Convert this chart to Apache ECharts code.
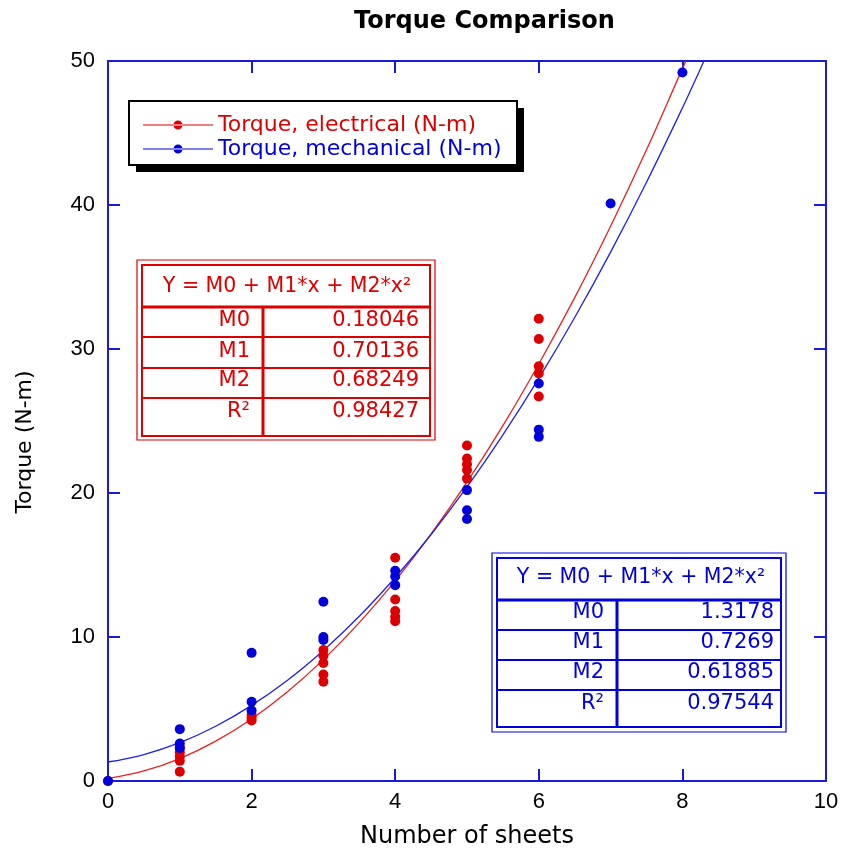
<!DOCTYPE html>
<html>
<head>
<meta charset="utf-8">
<script src="https://cdn.jsdelivr.net/npm/echarts@6/dist/echarts.min.js"></script>
<style>
  html, body { margin: 0; padding: 0; background: #fff; }
  #chart { width: 842px; height: 856px; }
</style>
</head>
<body>
<div id="chart"></div>
<script>
// measured points, [sheets, torque]
const elecPoints = [
  [0, 0],
  [1, 0.65], [1, 1.4], [1, 1.7], [1, 2.0], [1, 2.3],
  [2, 4.2], [2, 4.4], [2, 4.6],
  [3, 6.9], [3, 7.4], [3, 8.2], [3, 8.7], [3, 9.1],
  [4, 11.1], [4, 11.4], [4, 11.8], [4, 12.6], [4, 15.5],
  [5, 21.0], [5, 21.6], [5, 22.0], [5, 22.4], [5, 23.3],
  [6, 26.7], [6, 28.3], [6, 28.8], [6, 30.7], [6, 32.1]
];
const mechPoints = [
  [0, 0],
  [1, 2.3], [1, 2.6], [1, 3.6],
  [2, 4.9], [2, 5.5], [2, 8.9],
  [3, 9.8], [3, 10.0], [3, 12.45],
  [4, 13.6], [4, 14.2], [4, 14.6],
  [5, 18.2], [5, 18.8], [5, 20.2],
  [6, 23.9], [6, 24.4], [6, 27.6],
  [7, 40.1],
  [8, 49.2]
];

// fit curves
const elecFitX = [0, 0.5, 1, 1.5, 2, 2.5, 3, 3.5, 4, 4.5, 5, 5.5, 6, 6.5, 7, 7.5, 8, 8.05];
const elecFitY = [0.18, 0.70, 1.56, 2.77, 4.31, 6.20, 8.43, 11.0, 13.9, 17.16, 20.75, 24.68, 28.96, 33.57, 38.53, 43.83, 49.47, 50];
const mechFitX = [0, 0.5, 1, 1.5, 2, 2.5, 3, 3.5, 4, 4.5, 5, 5.5, 6, 6.5, 7, 7.5, 8, 8.3];
const mechFitY = [1.32, 1.84, 2.66, 3.80, 5.25, 7.00, 9.07, 11.44, 14.13, 17.12, 20.42, 24.04, 27.96, 32.19, 36.73, 41.58, 46.74, 50];

const seriesNames = ['Torque, electrical (N-m)', 'Torque, mechanical (N-m)'];

const fitTitle = 'Y = M0 + M1*x + M2*x²';
const fitLabels = ['M0', 'M1', 'M2', 'R²'];
const elecFitValues = ['0.18046', '0.70136', '0.68249', '0.98427'];
const mechFitValues = ['1.3178', '0.7269', '0.61885', '0.97544'];

const RED = '#dd0000';
const BLUE = '#0000dd';
const FRAME = '#1a1ad8';
const WIDE = '"DejaVu Sans", sans-serif';

function zip(xs, ys) {
  return xs.map((x, i) => [x, ys[i]]);
}

// boxed coefficient table, drawn as graphic elements
function makeTable(t, color) {
  const els = [];
  const line = (x1, y1, x2, y2, w) => els.push({
    type: 'line', silent: true,
    shape: { x1, y1, x2, y2 },
    style: { stroke: color, lineWidth: w }
  });
  els.push({ type: 'rect', silent: true,
    shape: { x: t.ox1, y: t.oy1, width: t.ox2 - t.ox1, height: t.oy2 - t.oy1 },
    style: { fill: '#fff', stroke: color, lineWidth: 1.2 } });
  els.push({ type: 'rect', silent: true,
    shape: { x: t.ix1, y: t.iy1, width: t.ix2 - t.ix1, height: t.iy2 - t.iy1 },
    style: { fill: 'none', stroke: color, lineWidth: 2 } });
  line(t.ix1, t.head, t.ix2, t.head, 3);
  t.rows.forEach(y => line(t.ix1, y, t.ix2, y, 2));
  line(t.div, t.head, t.div, t.iy2, 3);
  els.push({ type: 'text', silent: true, x: t.titleX, y: t.titleY,
    style: { text: fitTitle, fill: color, font: '20.5px ' + WIDE, align: 'center', verticalAlign: 'middle' } });
  t.textY.forEach((y, i) => {
    els.push({ type: 'text', silent: true, x: t.labelX, y: y,
      style: { text: fitLabels[i], fill: color, font: '21px ' + WIDE, align: 'right', verticalAlign: 'middle' } });
    els.push({ type: 'text', silent: true, x: t.valueX, y: y,
      style: { text: t.values[i], fill: color, font: '21px ' + WIDE, align: 'right', verticalAlign: 'middle' } });
  });
  return els;
}

const elecTable = makeTable({
  ox1: 137, oy1: 260, ox2: 435, oy2: 440,
  ix1: 142, iy1: 265, ix2: 430, iy2: 436,
  head: 307, rows: [337, 368, 398], div: 263,
  titleX: 287, titleY: 287, labelX: 250, valueX: 419,
  textY: [321, 352, 381, 412], values: elecFitValues
}, RED);

const mechTable = makeTable({
  ox1: 492, oy1: 553, ox2: 786, oy2: 732,
  ix1: 497, iy1: 558, ix2: 781, iy2: 727,
  head: 600, rows: [630, 660, 690], div: 617,
  titleX: 641, titleY: 578, labelX: 604, valueX: 774,
  textY: [613, 643, 673, 704], values: mechFitValues
}, BLUE);

// legend frame with hard drop shadow (legend itself draws on top)
const legendBox = [
  { type: 'rect', silent: true, shape: { x: 136, y: 108, width: 388, height: 64 },
    style: { fill: '#000' } },
  { type: 'rect', silent: true, shape: { x: 129, y: 101, width: 388, height: 64 },
    style: { fill: '#fff', stroke: '#000', lineWidth: 2 } }
];

// line + dot legend marker
const legendIcon = 'path://M0 4.4 H70 V5.6 H0 Z M30.5 5 A4.5 4.5 0 1 0 39.5 5 A4.5 4.5 0 1 0 30.5 5 Z';

const chart = echarts.init(document.getElementById('chart'));

const option = {
  backgroundColor: '#fff',
  animation: false,
  title: {
    text: 'Torque Comparison',
    left: 349,
    top: 5,
    textStyle: { fontFamily: WIDE, fontWeight: 'bold', fontSize: 24, color: '#000' }
  },
  legend: {
    orient: 'vertical',
    left: 129,
    top: 101,
    padding: [13, 22, 9, 14],
    itemGap: 2,
    itemWidth: 70,
    itemHeight: 10,
    data: [
      { name: seriesNames[0], icon: legendIcon, textStyle: { color: RED } },
      { name: seriesNames[1], icon: legendIcon, textStyle: { color: BLUE } }
    ],
    textStyle: { fontFamily: WIDE, fontSize: 22, lineHeight: 20 }
  },
  grid: { left: 108, right: 16, top: 61, bottom: 75 },
  xAxis: [{
    type: 'value',
    min: 0, max: 10, interval: 2,
    name: 'Number of sheets',
    nameLocation: 'middle',
    nameGap: 44,
    nameTextStyle: { fontFamily: WIDE, fontSize: 24, color: '#000' },
    axisLine: { onZero: false, lineStyle: { color: FRAME, width: 2 } },
    axisTick: { inside: true, length: 12, lineStyle: { color: FRAME, width: 2 } },
    axisLabel: { fontFamily: 'Liberation Sans, Arial, sans-serif', fontSize: 22, color: '#000', margin: 10 },
    splitLine: { show: false }
  }, {
    type: 'value', position: 'top',
    min: 0, max: 10, interval: 2,
    axisLine: { onZero: false, lineStyle: { color: FRAME, width: 2 } },
    axisTick: { inside: true, length: 12, lineStyle: { color: FRAME, width: 2 } },
    axisLabel: { show: false },
    splitLine: { show: false }
  }],
  yAxis: [{
    type: 'value',
    min: 0, max: 50, interval: 10,
    axisLine: { onZero: false, lineStyle: { color: FRAME, width: 2 } },
    axisTick: { inside: true, length: 12, lineStyle: { color: FRAME, width: 2 } },
    axisLabel: { fontFamily: 'Liberation Sans, Arial, sans-serif', fontSize: 22, color: '#000', margin: 13 },
    splitLine: { show: false }
  }, {
    type: 'value', position: 'right',
    min: 0, max: 50, interval: 10,
    axisLine: { onZero: false, lineStyle: { color: FRAME, width: 2 } },
    axisTick: { inside: true, length: 12, lineStyle: { color: FRAME, width: 2 } },
    axisLabel: { show: false },
    splitLine: { show: false }
  }],
  series: [
    {
      name: 'elecFit', type: 'line', smooth: 0.4,
      data: zip(elecFitX, elecFitY),
      showSymbol: false, silent: true,
      lineStyle: { color: '#e82020', width: 1.3 },
      z: 2
    },
    {
      name: 'mechFit', type: 'line', smooth: 0.4,
      data: zip(mechFitX, mechFitY),
      showSymbol: false, silent: true,
      lineStyle: { color: '#2020e8', width: 1.3 },
      z: 2
    },
    {
      name: seriesNames[0], type: 'scatter',
      data: elecPoints, symbolSize: 10,
      itemStyle: { color: RED, opacity: 1 },
      z: 3
    },
    {
      name: seriesNames[1], type: 'scatter',
      data: mechPoints, symbolSize: 10,
      itemStyle: { color: BLUE, opacity: 1 },
      z: 4
    }
  ],
  graphic: {
    elements: legendBox.concat(elecTable, mechTable, [{
      // y-axis title, placed where the reference has it
      type: 'text', silent: true, x: 25, y: 442, rotation: Math.PI / 2,
      style: { text: 'Torque (N-m)', fill: '#000', font: '22px ' + WIDE, align: 'center', verticalAlign: 'middle' }
    }])
  }
};

chart.setOption(option);
</script>
</body>
</html>
